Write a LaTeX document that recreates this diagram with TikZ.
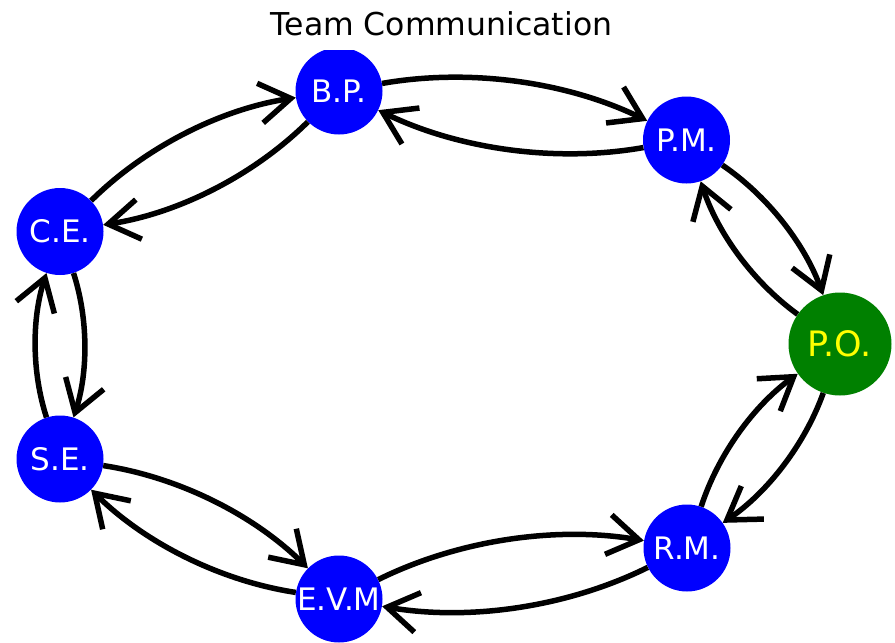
\documentclass[tikz,border=0pt]{standalone}
\usepackage{fontspec}
\setmainfont{DejaVu Sans}
\usetikzlibrary{arrows.meta}
\definecolor{nodeblue}{RGB}{0,0,255}
\definecolor{nodegreen}{RGB}{0,128,0}
\definecolor{labelyellow}{RGB}{255,255,0}
\tikzset{
  member/.style={circle, fill=nodeblue, minimum size=87pt, inner sep=0pt,
    text=white, font=\fontsize{31}{36}\selectfont},
  owner/.style={member, fill=nodegreen, minimum size=103pt, text=labelyellow,
    font=\fontsize{35}{40}\selectfont},
  link/.style={line width=5.5pt,
    -{Straight Barb[length=31pt, width=40pt, line cap=butt]},
    bend left=18, looseness=0.85},
}
\begin{document}
\begin{tikzpicture}[x=1pt, y=-1pt]
  \useasboundingbox (0,0) rectangle (895,643);
  \node[font=\fontsize{31.5}{36}\selectfont, anchor=base] (title) at (441.5,35) {Team Communication};
  \begin{scope}
    \clip (0,50) rectangle (895,643);
    \node[member] (bp)  at (339,91)   {B.P.};
    \node[member] (pm)  at (686.5,140) {P.M.};
    \node[owner]  (po)  at (840,344)  {P.O.};
    \node[member] (rm)  at (687,548)  {R.M.};
    \node[member] (evm) at (339,599)  {E.V.M};
    \node[member] (se)  at (60,459)   {S.E.};
    \node[member] (ce)  at (60,231.5) {C.E.};
    % two-way links around the ring
    \draw[link] (bp) to (pm);
    \draw[link] (pm) to (bp);
    \draw[link] (pm) to (po);
    \draw[link] (po) to (pm);
    \draw[link] (po) to (rm);
    \draw[link] (rm) to (po);
    \draw[link] (rm) to (evm);
    \draw[link] (evm) to (rm);
    \draw[link] (evm) to (se);
    \draw[link] (se) to (evm);
    \draw[link] (se) to (ce);
    \draw[link] (ce) to (se);
    \draw[link] (ce) to (bp);
    \draw[link] (bp) to (ce);
  \end{scope}
\end{tikzpicture}
\end{document}
